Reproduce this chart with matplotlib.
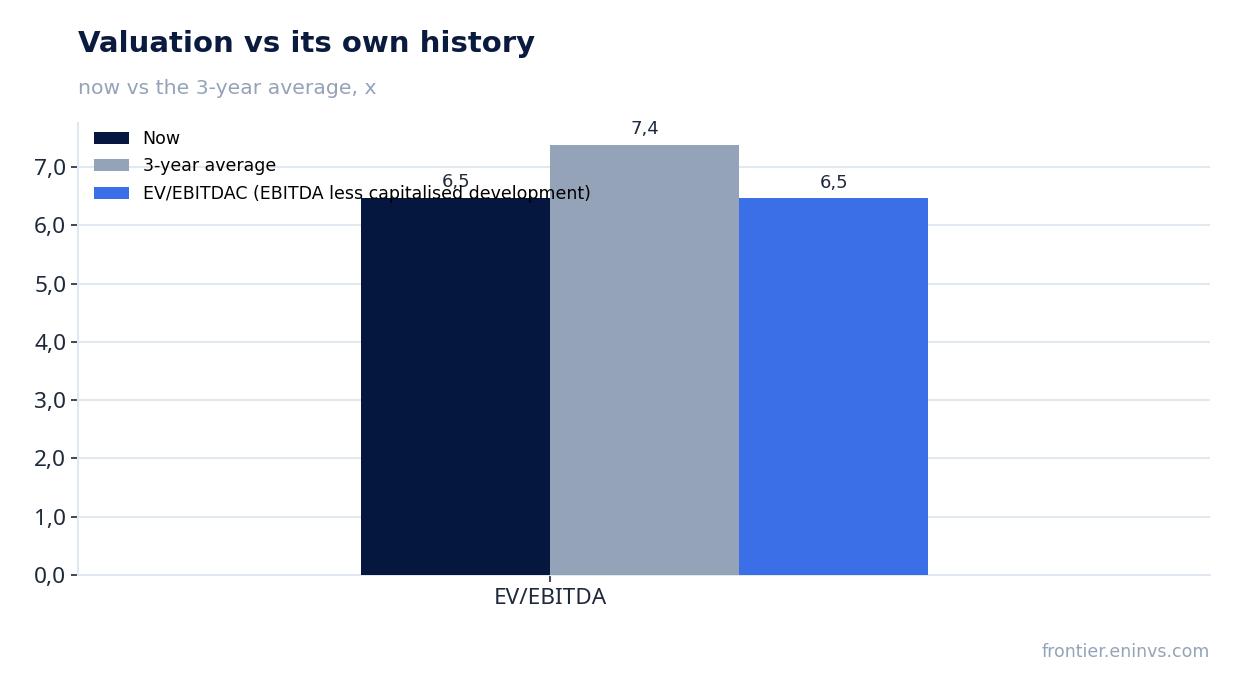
import matplotlib
matplotlib.use("Agg")
import matplotlib.pyplot as plt
import numpy as np

categories = ["EV/EBITDA"]
series_names = ["Now", "3-year average", "EV/EBITDAC (EBITDA less capitalised development)"]
now_vals = [6.47]
avg_vals = [7.37]
ebitdac_vals = [6.46]
colors = ["#05163f", "#94a3b8", "#3b6fe8"]

fig = plt.figure(figsize=(12.4, 6.93), dpi=100)
ax = fig.add_axes([78/1240, 1-575/693, (1210-78)/1240, (575-123)/693])

x = np.arange(len(categories))
w = 0.4
all_vals = [now_vals, avg_vals, ebitdac_vals]
offsets = [-0.2, 0.2, 0.6]
for vals, off, name, c in zip(all_vals, offsets, series_names, colors):
    bars = ax.bar(x + off, vals, w, color=c, label=name, zorder=3)
    for b, v in zip(bars, vals):
        ax.annotate(f"{v:.1f}".replace(".", ","), (b.get_x() + b.get_width()/2, v),
                    xytext=(0, 5), textcoords="offset points", ha="center", va="bottom",
                    fontsize=13, color="#1e293b", zorder=4)

ax.set_xlim(-1.0, 1.397)
ax.set_ylim(0, 7.755)
ax.set_yticks(np.arange(0, 8, 1.0))
ax.set_yticklabels([f"{t:.1f}".replace(".", ",") for t in np.arange(0, 8, 1.0)])
ax.set_xticks(x)
ax.set_xticklabels(categories)
for lab in ax.get_xticklabels() + ax.get_yticklabels():
    lab.set_fontfamily("Noto Sans")
    lab.set_fontsize(16.3)
    lab.set_color("#1e293b")
ax.tick_params(axis="both", colors="#1e293b", length=5, width=1.2)
ax.tick_params(axis="x", pad=4)
ax.grid(axis="y", color="#e2e8f0", linewidth=1.5, zorder=0)
for s in ["top", "right"]:
    ax.spines[s].set_visible(False)
for s in ["left", "bottom"]:
    ax.spines[s].set_color("#e2e8f0")
    ax.spines[s].set_linewidth(1.5)

leg = ax.legend(loc="upper left", frameon=False, fontsize=12.5, bbox_to_anchor=(0.008, 1.0),
                borderaxespad=0.0, handlelength=2.0, handleheight=0.7, labelspacing=0.55)

fig.text(78/1240, 1-44/693, "Valuation vs its own history", fontsize=21, fontweight="bold",
         color="#0b1a3f", ha="left", va="center")
fig.text(78/1240, 1-88/693, "now vs the 3-year average, x", fontsize=14.7, color="#94a3b8",
         ha="left", va="center")
fig.text(1210/1240, 1-652/693, "frontier.eninvs.com", fontsize=12.5, color="#94a3b8",
         ha="right", va="center")

fig.savefig("out.png", dpi=100, facecolor="white")
